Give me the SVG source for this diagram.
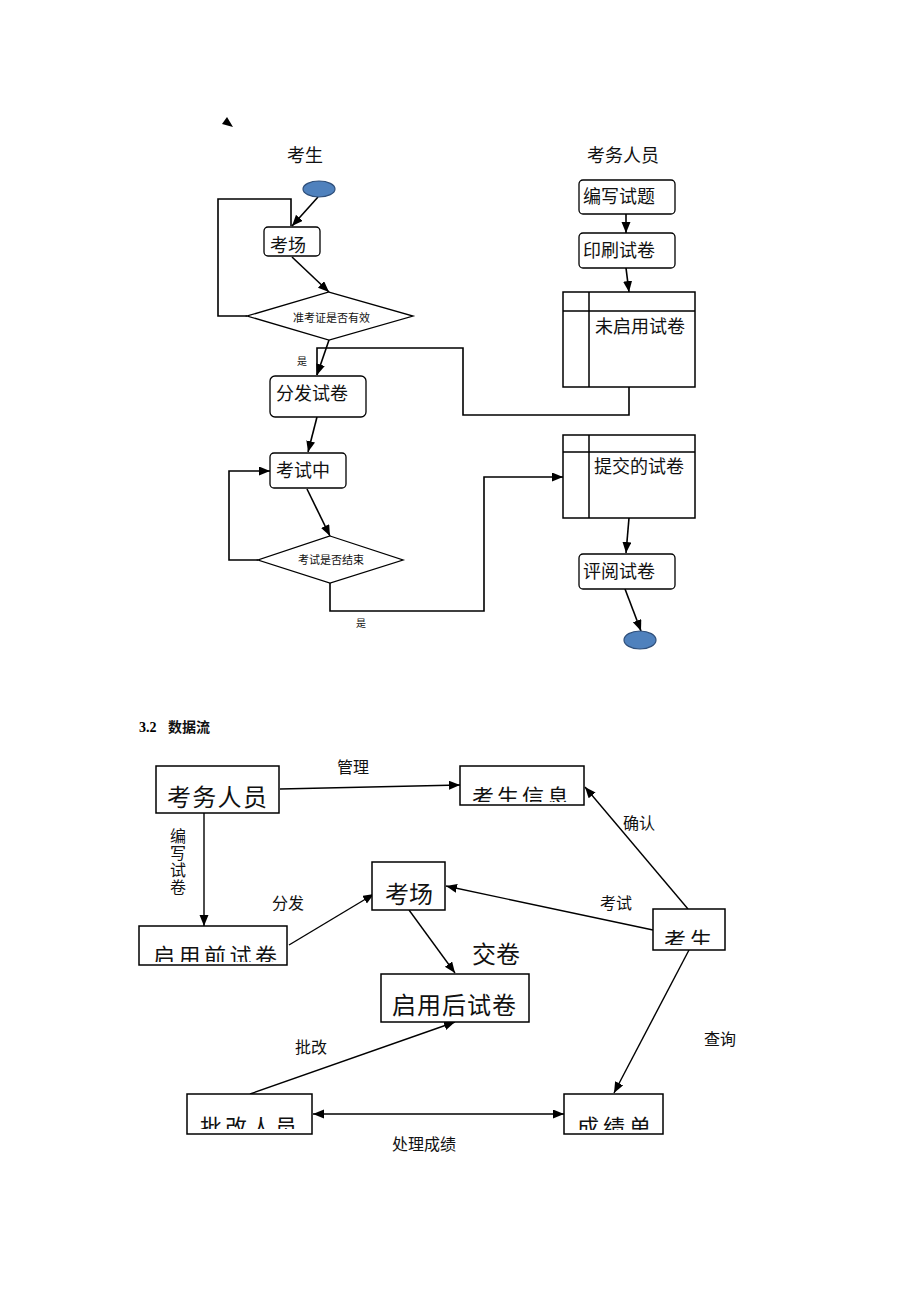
<svg xmlns="http://www.w3.org/2000/svg" width="920" height="1302" viewBox="0 0 920 1302">
<style>
  .t { font-family: "Noto Sans CJK SC", "Liberation Serif", sans-serif; fill: #111; }
  .box { fill: #fff; stroke: #000; stroke-width: 1.3; }
  .sq { fill: #fff; stroke: #000; stroke-width: 1.5; }
  .ln { fill: none; stroke: #000; stroke-width: 1.6; }
  .ln2 { fill: none; stroke: #000; stroke-width: 1.4; }
  .ov { fill: #4f81bd; stroke: #2f4f7a; stroke-width: 1.2; }
</style>
<defs>
  <marker id="ah" markerUnits="userSpaceOnUse" markerWidth="12" markerHeight="10" refX="11" refY="4.5" orient="auto-start-reverse">
    <path d="M0,0 L11,4.5 L0,9 z" fill="#000"/>
  </marker>
  <clipPath id="c1"><rect x="460" y="766" width="124" height="36"/></clipPath>
  <clipPath id="c2"><rect x="653" y="909" width="72" height="36"/></clipPath>
  <clipPath id="c3"><rect x="139" y="926" width="148" height="36"/></clipPath>
  <clipPath id="c4"><rect x="187" y="1094" width="125" height="35"/></clipPath>
  <clipPath id="c5"><rect x="564" y="1094" width="99" height="36"/></clipPath>
</defs>

<polygon points="227,117 222,124 233,127" fill="#000"/>

<text class="t" x="287" y="162" font-size="18">考生</text>
<text class="t" x="587" y="162" font-size="18">考务人员</text>

<g id="connectors">
  <line class="ln" x1="318" y1="197" x2="292" y2="226" marker-end="url(#ah)"/>
  <path class="ln" d="M247,316 H218 V199 H291 V226"/>
  <line class="ln" x1="292" y1="257" x2="329" y2="292" marker-end="url(#ah)"/>
  <line class="ln" x1="329" y1="340" x2="317" y2="375" marker-end="url(#ah)"/>
  <path class="ln" d="M629,387 V415 H463 V348 H317 V375"/>
  <line class="ln" x1="317" y1="417" x2="308" y2="452" marker-end="url(#ah)"/>
  <line class="ln" x1="307" y1="489" x2="330" y2="536" marker-end="url(#ah)"/>
  <path class="ln" d="M258,560 H229 V471 H270" marker-end="url(#ah)"/>
  <path class="ln" d="M330,583 V611 H484 V477 H563" marker-end="url(#ah)"/>
  <line class="ln" x1="626" y1="214" x2="626" y2="233" marker-end="url(#ah)"/>
  <line class="ln" x1="626" y1="268" x2="629" y2="292" marker-end="url(#ah)"/>
  <line class="ln" x1="629" y1="518" x2="626" y2="553" marker-end="url(#ah)"/>
  <line class="ln" x1="625" y1="589" x2="641" y2="631" marker-end="url(#ah)"/>

  <line class="ln2" x1="280" y1="789" x2="460" y2="785" marker-end="url(#ah)"/>
  <line class="ln2" x1="688" y1="909" x2="585" y2="787" marker-end="url(#ah)"/>
  <line class="ln2" x1="653" y1="930" x2="446" y2="886" marker-end="url(#ah)"/>
  <line class="ln2" x1="204" y1="813" x2="204" y2="926" marker-end="url(#ah)"/>
  <line class="ln2" x1="289" y1="945" x2="374" y2="894" marker-end="url(#ah)"/>
  <line class="ln2" x1="409" y1="910" x2="455" y2="973" marker-end="url(#ah)"/>
  <line class="ln2" x1="250" y1="1094" x2="455" y2="1022" marker-end="url(#ah)"/>
  <line class="ln2" x1="313" y1="1114" x2="564" y2="1114" marker-start="url(#ah)" marker-end="url(#ah)"/>
  <line class="ln2" x1="689" y1="950" x2="614" y2="1093" marker-end="url(#ah)"/>

  <text class="t" x="297" y="365" font-size="10">是</text>
  <text class="t" x="356" y="627" font-size="10">是</text>
  <text class="t" x="337" y="773" font-size="16">管理</text>
  <text class="t" x="623" y="829" font-size="16">确认</text>
  <text class="t" x="600" y="909" font-size="16">考试</text>
  <text class="t" x="272" y="909" font-size="16">分发</text>
  <text class="t" x="295" y="1053" font-size="16">批改</text>
  <text class="t" x="704" y="1045" font-size="16">查询</text>
  <text class="t" x="392" y="1150" font-size="16">处理成绩</text>
  <text class="t" x="472" y="963" font-size="24">交卷</text>
  <text class="t" x="178" y="828" font-size="16" letter-spacing="1" style="writing-mode: vertical-rl; text-orientation: upright;">编写试卷</text>
</g>

<g id="start"><ellipse class="ov" cx="319" cy="189" rx="16" ry="8"/></g>
<g id="end"><ellipse class="ov" cx="640" cy="640" rx="16" ry="9"/></g>

<g id="kaochang1">
  <rect class="box" x="264" y="227" width="56" height="29" rx="4"/>
  <text class="t" x="270" y="252" font-size="18">考场</text>
</g>
<g id="zhunkaozheng">
  <polygon class="box" points="329,292 413,316 329,340 247,316"/>
  <text class="t" x="293" y="322" font-size="11">准考证是否有效</text>
</g>
<g id="fenfa">
  <rect class="box" x="270" y="376" width="96" height="41" rx="5"/>
  <text class="t" x="276" y="400" font-size="18">分发试卷</text>
</g>
<g id="kaoshizhong">
  <rect class="box" x="270" y="453" width="76" height="35" rx="4"/>
  <text class="t" x="276" y="477" font-size="18">考试中</text>
</g>
<g id="jieshu">
  <polygon class="box" points="330,536 403,560 330,583 258,560"/>
  <text class="t" x="298" y="564" font-size="11">考试是否结束</text>
</g>
<g id="bianxie">
  <rect class="box" x="579" y="180" width="96" height="34" rx="4"/>
  <text class="t" x="583" y="203" font-size="18">编写试题</text>
</g>
<g id="yinshua">
  <rect class="box" x="579" y="233" width="96" height="35" rx="4"/>
  <text class="t" x="583" y="257" font-size="18">印刷试卷</text>
</g>
<g id="weiqiyong">
  <rect class="sq" x="563" y="292" width="132" height="95"/>
  <path class="sq" d="M563,311 H695 M589,292 V387"/>
  <text class="t" x="595" y="333" font-size="18">未启用试卷</text>
</g>
<g id="tijiao">
  <rect class="sq" x="563" y="435" width="132" height="83"/>
  <path class="sq" d="M563,452 H695 M589,435 V518"/>
  <text class="t" x="594" y="473" font-size="18">提交的试卷</text>
</g>
<g id="pingyue">
  <rect class="box" x="579" y="554" width="96" height="35" rx="4"/>
  <text class="t" x="583" y="578" font-size="18">评阅试卷</text>
</g>

<text x="139" y="732" font-family="Liberation Serif, serif" font-weight="bold" font-size="14">3.2</text>
<text class="t" x="168" y="732" font-weight="bold" font-size="14">数据流</text>

<g id="kaowu">
  <rect class="sq" x="156" y="766" width="123" height="47"/>
  <text class="t" x="167" y="806" font-size="24" letter-spacing="1.3">考务人员</text>
</g>
<g id="kaoshengxinxi">
  <rect class="sq" x="460" y="766" width="124" height="39"/>
  <text class="t" x="472" y="805" font-size="22" letter-spacing="3" clip-path="url(#c1)">考生信息</text>
</g>
<g id="kaochang2">
  <rect class="sq" x="372" y="862" width="73" height="48"/>
  <text class="t" x="385" y="903" font-size="24">考场</text>
</g>
<g id="kaosheng">
  <rect class="sq" x="653" y="909" width="72" height="41"/>
  <text class="t" x="664" y="948" font-size="22" letter-spacing="4" clip-path="url(#c2)">考生</text>
</g>
<g id="qiyongqian">
  <rect class="sq" x="139" y="926" width="148" height="39"/>
  <text class="t" x="153" y="964" font-size="22" letter-spacing="3.5" clip-path="url(#c3)">启用前试卷</text>
</g>
<g id="qiyonghou">
  <rect class="sq" x="381" y="974" width="148" height="48"/>
  <text class="t" x="392" y="1014" font-size="24" letter-spacing="1">启用后试卷</text>
</g>
<g id="pigai">
  <rect class="sq" x="187" y="1094" width="125" height="40"/>
  <text class="t" x="200" y="1135" font-size="22" letter-spacing="3" clip-path="url(#c4)">批改人员</text>
</g>
<g id="chengji">
  <rect class="sq" x="564" y="1094" width="99" height="40"/>
  <text class="t" x="577" y="1135" font-size="22" letter-spacing="4" clip-path="url(#c5)">成绩单</text>
</g>
</svg>
